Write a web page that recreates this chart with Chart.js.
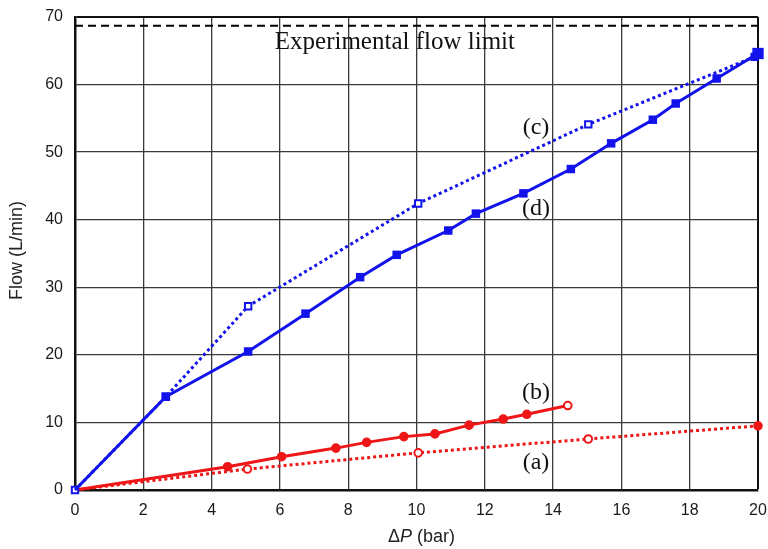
<!DOCTYPE html>
<html>
<head>
<meta charset="utf-8">
<script src="https://cdn.jsdelivr.net/npm/chart.js@4/dist/chart.umd.min.js"></script>
<style>
  html, body { margin: 0; padding: 0; background: #fff; }
  #wrap { width: 768px; height: 549px; }
</style>
</head>
<body>
<div id="wrap"><canvas id="c"></canvas></div>
<script>
// Pressure drop (bar) and flow (L/min) for the four configurations
const aX = [0, 5.05, 10.05, 15.03, 20.0];
const aY = [0, 3.1, 5.5, 7.55, 9.5];

const bX = [0, 4.47, 6.05, 7.64, 8.54, 9.63, 10.54, 11.54, 12.54, 13.23, 14.43];
const bY = [0, 3.45, 4.93, 6.2, 7.05, 7.9, 8.3, 9.6, 10.5, 11.2, 12.5];

const cX = [0, 2.66, 5.07, 10.05, 15.03, 19.9];
const cY = [0, 13.8, 27.2, 42.4, 54.1, 64.1];

const dX = [0, 2.66, 5.07, 6.75, 8.35, 9.42, 10.93, 11.74, 13.13, 14.52, 15.7, 16.92, 17.59, 18.79, 20.0];
const dY = [0, 13.8, 20.5, 26.1, 31.5, 34.8, 38.4, 40.9, 43.9, 47.5, 51.3, 54.8, 57.2, 60.9, 64.6];

const limitX = [0, 20];
const limitY = [68.7, 68.7];

const xTicks = [0, 2, 4, 6, 8, 10, 12, 14, 16, 18, 20];
const yTicks = [0, 10, 20, 30, 40, 50, 60, 70];

const curveLabels = [
  { text: '(c)', x: 13.5, y: 53.6 },
  { text: '(d)', x: 13.5, y: 41.7 },
  { text: '(b)', x: 13.5, y: 14.4 },
  { text: '(a)', x: 13.5, y: 4.0 }
];
const limitLabel = { text: 'Experimental flow limit', x: 5.85, y: 66.2 };

const BLUE = 'rgb(18,18,235)';
const RED = 'rgb(238,22,22)';
const SANS = '"Liberation Sans", Arial, sans-serif';

const pts = (xs, ys) => xs.map((x, i) => ({ x: x, y: ys[i] }));

const labelsPlugin = {
  id: 'curveText',
  afterDatasetsDraw(chart) {
    const { ctx, scales: { x, y }, chartArea } = chart;
    ctx.save();
    ctx.fillStyle = '#111';
    ctx.font = '25px "Liberation Serif", "Times New Roman", serif';
    ctx.textBaseline = 'middle';
    ctx.textAlign = 'left';
    ctx.fillText(limitLabel.text, x.getPixelForValue(limitLabel.x), y.getPixelForValue(limitLabel.y));
    ctx.font = '24px "Liberation Serif", "Times New Roman", serif';
    ctx.textAlign = 'center';
    curveLabels.forEach(l => ctx.fillText(l.text, x.getPixelForValue(l.x), y.getPixelForValue(l.y)));

    // axis titles
    ctx.fillStyle = '#222';
    ctx.textAlign = 'left';
    ctx.textBaseline = 'middle';
    const parts = [
      { t: '\u0394', f: '18px ' + SANS },
      { t: 'P', f: 'italic 18px ' + SANS },
      { t: ' (bar)', f: '18px ' + SANS }
    ];
    let w = 0;
    parts.forEach(p => { ctx.font = p.f; w += ctx.measureText(p.t).width; });
    let px = (chartArea.left + chartArea.right) / 2 + 5 - w / 2;
    parts.forEach(p => { ctx.font = p.f; ctx.fillText(p.t, px, 537); px += ctx.measureText(p.t).width; });

    ctx.font = '18px ' + SANS;
    ctx.translate(17, (chartArea.top + chartArea.bottom) / 2 - 3);
    ctx.rotate(-Math.PI / 2);
    ctx.textAlign = 'center';
    ctx.fillText('Flow (L/min)', 0, 0);
    ctx.restore();
  }
};

new Chart(document.getElementById('c'), {
  type: 'line',
  data: {
    datasets: [
      {
        label: 'limit', data: pts(limitX, limitY),
        borderColor: '#000', borderWidth: 2, borderDash: [8, 5],
        pointRadius: 0
      },
      {
        label: '(d)', data: pts(dX, dY),
        borderColor: BLUE, backgroundColor: BLUE, borderWidth: 3,
        pointStyle: 'rect',
        pointRadius: ctx => ctx.dataIndex === dX.length - 1 ? 8 : (ctx.dataIndex === 0 ? 0 : 6),
        pointBorderWidth: 0, clip: false
      },
      {
        label: '(c)', data: pts(cX, cY),
        borderColor: BLUE, backgroundColor: '#fff', borderWidth: 3, borderDash: [3, 3],
        pointStyle: 'rect', pointRadius: 4.5, pointBorderWidth: 2,
        pointBorderColor: BLUE, clip: false
      },
      {
        label: '(b)', data: pts(bX, bY),
        borderColor: RED, borderWidth: 3,
        pointStyle: 'circle',
        pointRadius: ctx => ctx.dataIndex === 0 ? 0 : 3.8,
        pointBackgroundColor: ctx => ctx.dataIndex === bX.length - 1 ? '#fff' : RED,
        pointBorderColor: RED, pointBorderWidth: 2, clip: false
      },
      {
        label: '(a)', data: pts(aX, aY),
        borderColor: RED, borderWidth: 3, borderDash: [3, 3],
        pointStyle: 'circle',
        pointRadius: ctx => ctx.dataIndex === 0 ? 0 : 3.8,
        pointBackgroundColor: ctx => ctx.dataIndex === aX.length - 1 ? RED : '#fff',
        pointBorderColor: RED, pointBorderWidth: 2, clip: false
      }
    ]
  },
  options: {
    responsive: true,
    maintainAspectRatio: false,
    animation: false,
    devicePixelRatio: 1,
    layout: { padding: { left: 0, right: 10, top: 17, bottom: 0 } },
    plugins: { legend: { display: false }, tooltip: { enabled: false } },
    elements: { line: { tension: 0 } },
    scales: {
      x: {
        type: 'linear', min: 0, max: 20,
        afterBuildTicks: s => { s.ticks = xTicks.map(v => ({ value: v })); },
        afterFit: s => { s.height = 59; s.paddingLeft = 0; s.paddingRight = 0; },
        ticks: { color: '#1a1a1a', padding: 11, maxRotation: 0, font: { size: 16, family: SANS } },
        grid: {
          color: ctx => (ctx.tick && ctx.tick.value === 20) ? '#111' : '#3a3a3a',
          lineWidth: ctx => (ctx.tick && ctx.tick.value === 20) ? 2 : 1.3,
          drawTicks: false
        },
        border: { color: '#111', width: 2.5 }
      },
      y: {
        type: 'linear', min: 0, max: 70,
        afterBuildTicks: s => { s.ticks = yTicks.map(v => ({ value: v })); },
        afterFit: s => { s.width = 75; s.paddingTop = 0; s.paddingBottom = 0; },
        ticks: { color: '#1a1a1a', padding: 12, font: { size: 16, family: SANS } },
        grid: {
          color: ctx => (ctx.tick && ctx.tick.value === 70) ? '#111' : '#3a3a3a',
          lineWidth: ctx => (ctx.tick && ctx.tick.value === 70) ? 2 : 1.3,
          drawTicks: false
        },
        border: { color: '#111', width: 2.5 }
      }
    }
  },
  plugins: [labelsPlugin]
});
</script>
</body>
</html>
